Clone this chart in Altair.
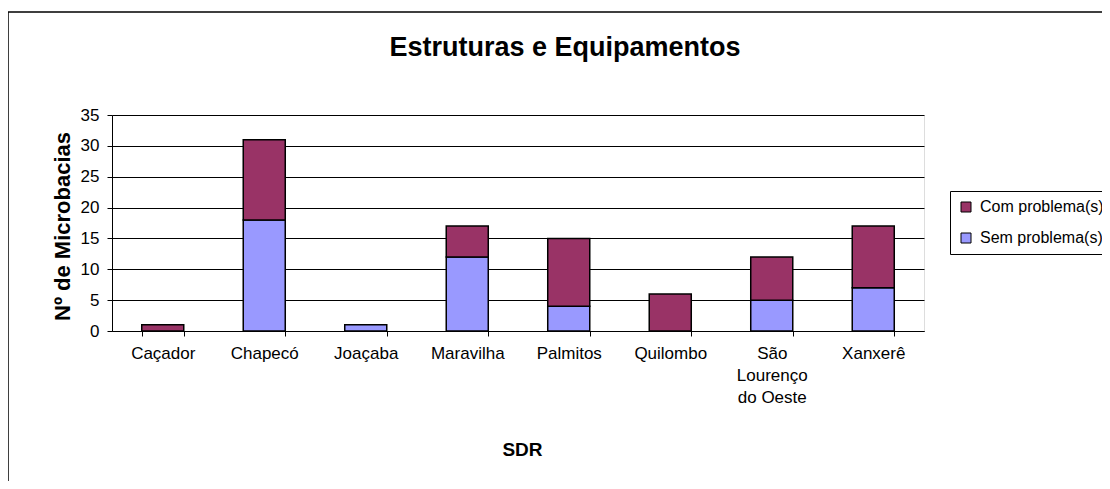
import altair as alt
import pandas as pd

# ---- data ----
sdr = ["Caçador", "Chapecó", "Joaçaba", "Maravilha", "Palmitos",
       "Quilombo", "São Lourenço do Oeste", "Xanxerê"]
com_problema = [1, 13, 0, 5, 11, 6, 7, 10]
sem_problema = [0, 18, 1, 12, 4, 0, 5, 7]
series = ["Com problema(s)", "Sem problema(s)"]
colors = ["#993366", "#9999FF"]
y_ticks = [0, 5, 10, 15, 20, 25, 30, 35]

rows = []
for i, s in enumerate(sdr):
    if sem_problema[i] > 0:
        rows.append({"SDR": s, "tipo": series[1], "valor": sem_problema[i], "ordem": 0})
    if com_problema[i] > 0:
        rows.append({"SDR": s, "tipo": series[0], "valor": com_problema[i], "ordem": 1})
df = pd.DataFrame(rows)

FONT = "Liberation Sans, Arial, sans-serif"
W, H = 812, 216

frame = alt.Chart(pd.DataFrame({"a": [0]})).mark_rect(
    fill="white", fillOpacity=0, stroke="black", strokeWidth=1.5
).encode(
    x=alt.value(-104), x2=alt.value(1300),
    y=alt.value(-103), y2=alt.value(700),
)

bars = alt.Chart(df).mark_bar(stroke="black", strokeWidth=1.5).encode(
    x=alt.X("SDR:N", sort=sdr,
            scale=alt.Scale(paddingInner=0.586, paddingOuter=0.293),
            axis=alt.Axis(
                title="SDR", labelAngle=0, tickBand="extent",
                labelExpr="datum.label == 'São Lourenço do Oeste' ? ['São', 'Lourenço', 'do Oeste'] : datum.label",
                labelFontSize=17, labelFont=FONT, labelColor="black",
                labelLineHeight=22, labelPadding=9,
                tickSize=5, tickColor="black", domainColor="black",
                titleFontSize=19, titleFont=FONT, titleFontWeight="bold",
                titleColor="black", titleX=410, titleY=118,
                titleBaseline="middle", titleAlign="center",
                grid=False)),
    y=alt.Y("valor:Q", stack="zero",
            scale=alt.Scale(domain=[0, 35], nice=False),
            axis=alt.Axis(
                title="Nº de Microbacias", values=y_ticks,
                labelFontSize=17, labelFont=FONT, labelColor="black",
                labelPadding=8, tickSize=5, tickColor="black",
                domainColor="black", gridColor="black", gridWidth=1,
                titleFontSize=22, titleFont=FONT, titleFontWeight="bold",
                titleColor="black", titleX=-50, titleY=111,
                titleBaseline="middle", titleAlign="center", titleAngle=270)),
    color=alt.Color("tipo:N",
                    scale=alt.Scale(domain=series, range=colors),
                    legend=alt.Legend(
                        title=None, orient="none", legendX=838, legendY=76,
                        fillColor="white", strokeColor="black", padding=8,
                        symbolType="square", symbolSize=100,
                        symbolStrokeColor="black", symbolStrokeWidth=1,
                        symbolOpacity=1,
                        labelFontSize=16, labelFont=FONT, labelColor="black",
                        labelOffset=6, rowPadding=15)),
    order=alt.Order("ordem:Q", sort="ascending"),
)

chart = alt.layer(frame, bars).properties(
    width=W, height=H,
    title=alt.TitleParams("Estruturas e Equipamentos", fontSize=27,
                          fontWeight="bold", font=FONT, color="black",
                          anchor="middle", frame="group", dx=47,
                          offset=-64, baseline="middle"),
    autosize=alt.AutoSizeParams(type="none"),
    padding={"left": 104, "top": 107, "right": 178, "bottom": 150},
).configure_view(
    fill="#C0C0C0", stroke="#808080", strokeWidth=1
).configure(background="white")

chart.save("out.html", embed_options={"renderer": "svg", "actions": False})
